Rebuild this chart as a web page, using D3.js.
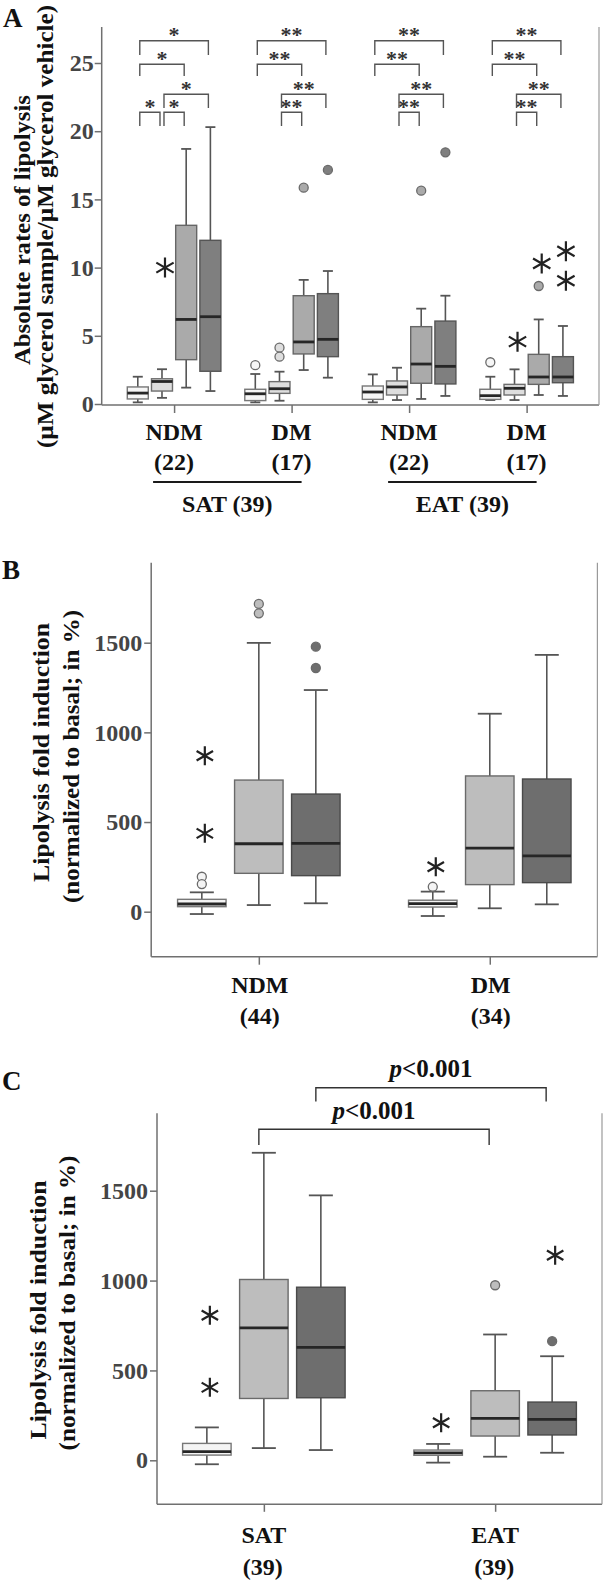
<!DOCTYPE html>
<html><head><meta charset="utf-8">
<script src="https://cdn.jsdelivr.net/npm/d3@7"></script>
<style>
body{margin:0;background:#fff}
svg{display:block}
text{font-family:"Liberation Serif","Times New Roman",serif;font-weight:bold}
</style>
</head><body>
<svg id="chart" width="611" height="1581"></svg>
<script>
// ---------------- DATA ----------------
// Panel A: absolute rates of lipolysis, 4 groups x 4 conditions. [min, q1, median, q3, max]
const categoriesA = ["NDM","DM","NDM","DM"];
const countsA = ["(22)","(17)","(22)","(17)"];
const tissuesA = ["SAT (39)","EAT (39)"];
const yTicksA = [0,5,10,15,20,25];
const aBox1 = [[0.12,0.37,0.80,1.25,2.00],[0.12,0.25,0.75,1.08,2.20],[0.12,0.34,0.88,1.32,2.17],[0.29,0.34,0.61,1.08,2.00]];
const aBox2 = [[0.45,0.95,1.65,1.85,2.55],[0.24,0.78,1.12,1.64,2.37],[0.29,0.66,1.25,1.69,2.66],[0.29,0.66,1.15,1.44,2.54]];
const aBox3 = [[1.20,3.25,6.20,13.10,18.70],[2.49,3.67,4.55,7.94,9.10],[0.37,1.52,2.93,5.67,6.99],[0.66,1.44,1.98,3.64,6.20]];
const aBox4 = [[0.95,2.40,6.40,12.00,20.30],[1.93,3.47,4.74,8.09,9.75],[0.59,1.47,2.76,6.08,7.94],[0.59,1.56,1.98,3.47,5.72]];
// [group, box, value, kind]  kind: "o" outlier, "*" extreme
const aOutliers = [[0,1,10.0,"*"],[1,0,2.85,"o"],[1,1,4.13,"o"],[1,1,3.47,"o"],[1,2,15.86,"o"],[1,3,17.16,"o"],
  [2,2,15.64,"o"],[2,3,18.45,"o"],[3,0,3.06,"o"],[3,1,4.57,"*"],[3,2,8.65,"o"],[3,2,10.3,"*"],[3,3,11.2,"*"],[3,3,9.04,"*"]];
// [group, fromBox, toBox, level, label]
const aBrackets = [[0,0,1,0,"*"],[0,1,2,0,"*"],[0,1,3,1,"*"],[0,0,2,2,"*"],[0,0,3,3,"*"],
  [1,1,2,0,"**"],[1,1,3,1,"**"],[1,0,2,2,"**"],[1,0,3,3,"**"],
  [2,1,2,0,"**"],[2,1,3,1,"**"],[2,0,2,2,"**"],[2,0,3,3,"**"],
  [3,1,2,0,"**"],[3,1,3,1,"**"],[3,0,2,2,"**"],[3,0,3,3,"**"]];

// Panel B: fold induction by diabetes status
const categoriesB = ["NDM","DM"];
const countsB = ["(44)","(34)"];
const yTicksB = [0,500,1000,1500];
const bBox1 = [[-13,28,43,69,108],[-24,26,45,64,112]];
const bBox2 = [[37,214,379,734,1499],[19,151,354,757,1104]];
const bBox3 = [[47,201,381,656,1236],[41,162,311,740,1432]];
const bOutliers = [[0,0,195,"o"],[0,0,154,"o"],[0,0,870,"*"],[0,0,437,"*"],[0,1,1716,"o"],[0,1,1664,"o"],
  [0,2,1478,"o"],[0,2,1359,"o"],[1,0,139,"o"],[1,0,251,"*"]];

// Panel C: fold induction by depot
const categoriesC = ["SAT","EAT"];
const countsC = ["(39)","(39)"];
const yTicksC = [0,500,1000,1500];
const cBox1 = [[-22,29,48,94,183],[-13,28,41,57,91]];
const cBox2 = [[68,344,737,1006,1711],[20,135,233,387,700]];
const cBox3 = [[57,348,628,963,1474],[42,141,228,324,579]];
const cOutliers = [[0,0,807,"*"],[0,0,406,"*"],[1,0,209,"*"],[1,1,974,"o"],[1,2,663,"o"],[1,2,1141,"*"]];
// [box, level, label]  (SAT box -> EAT box)
const cBrackets = [[1,0,"<0.001"],[2,1,"<0.001"]];

// ---------------- DRAWING ----------------
const svg = d3.select("#chart");
const AXIS = "#707070";

function starPath(cx, cy, r){
  const c = Math.cos(Math.PI/6)*r, s = Math.sin(Math.PI/6)*r;
  return `M${cx},${cy-r}L${cx},${cy+r}M${cx-c},${cy-s}L${cx+c},${cy+s}M${cx-c},${cy+s}L${cx+c},${cy-s}`;
}

function drawBoxes(g, x, y, boxes, fills, strokes, offset, bw, capW, circR, starR){
  boxes.forEach((series, bi) => {
    series.forEach((st, gi) => {
      const cx = x(gi) + offset(bi);
      const [mn,q1,md,q3,mx] = st;
      const gg = g.append("g");
      gg.append("line").attr("x1",cx).attr("x2",cx).attr("y1",y(mx)).attr("y2",y(q3)).attr("stroke","#555").attr("stroke-width",1.6);
      gg.append("line").attr("x1",cx).attr("x2",cx).attr("y1",y(q1)).attr("y2",y(mn)).attr("stroke","#555").attr("stroke-width",1.6);
      gg.append("line").attr("x1",cx-capW/2).attr("x2",cx+capW/2).attr("y1",y(mx)).attr("y2",y(mx)).attr("stroke","#555").attr("stroke-width",1.8);
      gg.append("line").attr("x1",cx-capW/2).attr("x2",cx+capW/2).attr("y1",y(mn)).attr("y2",y(mn)).attr("stroke","#555").attr("stroke-width",1.8);
      gg.append("rect").attr("x",cx-bw/2).attr("width",bw).attr("y",y(q3)).attr("height",Math.max(1,y(q1)-y(q3)))
        .attr("fill",fills[bi]).attr("stroke",strokes[bi]).attr("stroke-width",1.4);
      gg.append("line").attr("x1",cx-bw/2).attr("x2",cx+bw/2).attr("y1",y(md)).attr("y2",y(md)).attr("stroke","#262626").attr("stroke-width",2.8);
    });
  });
}

function drawOutliers(g, x, y, outs, fills, offset, circR, starR){
  outs.forEach(([gi,bi,v,k]) => {
    const cx = x(gi) + offset(bi);
    if (k === "o") {
      g.append("circle").attr("cx",cx).attr("cy",y(v)).attr("r",circR)
        .attr("fill",fills[bi]).attr("stroke","#6a6a6a").attr("stroke-width",1.3);
    } else {
      g.append("path").attr("d",starPath(cx+3,y(v),starR)).attr("stroke","#222").attr("stroke-width",2.2).attr("fill","none");
    }
  });
}

function frame(g, P){
  g.append("line").attr("x1",P.left).attr("x2",P.left).attr("y1",P.top).attr("y2",P.bottom).attr("stroke",AXIS).attr("stroke-width",1.5);
  g.append("line").attr("x1",P.left).attr("x2",P.right).attr("y1",P.bottom).attr("y2",P.bottom).attr("stroke",AXIS).attr("stroke-width",1.5);
  g.append("line").attr("x1",P.right).attr("x2",P.right).attr("y1",P.top).attr("y2",P.bottom).attr("stroke","#9a9a9a").attr("stroke-width",1.2);
}

function yAxis(g, P, y, ticks, pad){
  const ax = g.append("g").attr("transform",`translate(${P.left},0)`)
    .call(d3.axisLeft(y).tickValues(ticks).tickSize(7).tickPadding(pad).tickFormat(d3.format("d")));
  ax.select(".domain").remove();
  ax.selectAll(".tick line").attr("stroke",AXIS).attr("stroke-width",1.5);
  ax.selectAll(".tick text").attr("font-size",24).attr("fill","#454545")
    .attr("font-family","Liberation Serif, Times New Roman, serif").attr("font-weight","bold");
}

function xAxis(g, P, x, n, tickLen){
  const ax = g.append("g").attr("transform",`translate(0,${P.bottom})`)
    .call(d3.axisBottom(x).tickValues(d3.range(n)).tickSize(tickLen).tickFormat(""));
  ax.select(".domain").remove();
  ax.selectAll(".tick line").attr("stroke",AXIS).attr("stroke-width",1.5);
}

function label(t, x, y, size, opts={}){
  const el = svg.append("text").attr("x",x).attr("y",y).attr("font-size",size)
    .attr("text-anchor",opts.anchor||"middle").attr("fill",opts.fill||"#111").text(t);
  return el;
}

function yTitle(lines, xs, cys, lens, size){
  lines.forEach((t,i) => {
    svg.append("text").attr("transform",`translate(${xs[i]},${cys[i]}) rotate(-90)`)
      .attr("text-anchor","middle").attr("font-size",size).attr("fill","#111")
      .attr("textLength",lens[i]).attr("lengthAdjust","spacingAndGlyphs").text(t);
  });
}

// ===== Panel A =====
{
  const P = {left:101.7,right:599,top:27,bottom:405};
  const g = svg.append("g");
  const x = d3.scalePoint().domain(d3.range(4)).range([P.left,P.right]).padding(0.616);
  const y = d3.scaleLinear().domain([0,25]).range([404,63]);
  const off = i => (i-1.5)*24.2;
  const fills = ["#f6f6f6","#dedede","#aaaaaa","#7f7f7f"];
  const strokes = ["#777","#6e6e6e","#666","#555"];
  frame(g,P);
  yAxis(g,P,y,yTicksA,1);
  xAxis(g,P,x,4,8);
  drawBoxes(g,x,y,[aBox1,aBox2,aBox3,aBox4],fills,strokes,off,21,10,4.5,10);
  drawOutliers(g,x,y,aOutliers,fills,off,4.5,10);
  const levels = [[112.3,126],[94.3,108],[64.3,76],[40.7,55]];
  aBrackets.forEach(([gi,f,t,lv,lab]) => {
    const x1 = x(gi)+off(f)+2, x2 = x(gi)+off(t)-2;
    const [ly,lb] = levels[lv];
    g.append("path").attr("d",`M${x1},${lb}V${ly}H${x2}V${lb}`).attr("fill","none").attr("stroke","#555").attr("stroke-width",1.4);
    g.append("text").attr("x",(x1+x2)/2).attr("y",ly+1.5).attr("text-anchor","middle").attr("font-size",22).attr("fill","#333").text(lab);
  });
  categoriesA.forEach((c,i) => { label(c, x(i), 439.5, 24); label(countsA[i], x(i), 470, 24); });
  tissuesA.forEach((t,k) => {
    const x1 = x(2*k)-21, x2 = x(2*k+1)+10;
    svg.append("line").attr("x1",x1).attr("x2",x2).attr("y1",482).attr("y2",482).attr("stroke","#1a1a1a").attr("stroke-width",2.2);
    label(t,(x1+x2)/2,511.5,24);
  });
  label("A",3,27,27,{anchor:"start"});
  yTitle(["Absolute rates of lipolysis","(\u00b5M glycerol sample/\u00b5M glycerol vehicle)"],[30,52.5],[230,226.5],[270,443],24);
}

// ===== Panel B =====
{
  const P = {left:151.2,right:597.4,top:562.7,bottom:956.7};
  const g = svg.append("g");
  const x = d3.scalePoint().domain(d3.range(2)).range([P.left,P.right]).padding(0.466);
  const y = d3.scaleLinear().domain([0,1500]).range([911.7,642.7]);
  const off = i => (i-1)*57;
  const fills = ["#f4f4f4","#bdbdbd","#6e6e6e"];
  const strokes = ["#777","#6a6a6a","#4a4a4a"];
  frame(g,P);
  yAxis(g,P,y,yTicksB,2);
  xAxis(g,P,x,2,8);
  drawBoxes(g,x,y,[bBox1,bBox2,bBox3],fills,strokes,off,48.5,24,4.5,9.5);
  drawOutliers(g,x,y,bOutliers,fills,off,4.5,9.5);
  categoriesB.forEach((c,i) => { label(c, x(i)+1, 993, 24); label(countsB[i], x(i)+1, 1024, 24); });
  label("B",2,579,27,{anchor:"start"});
  yTitle(["Lipolysis fold induction","(normalized to basal; in %)"],[49,79],[752.5,756.5],[259,293],24);
}

// ===== Panel C =====
{
  const P = {left:157,right:602,top:1113.3,bottom:1504.3};
  const g = svg.append("g");
  const x = d3.scalePoint().domain(d3.range(2)).range([P.left,P.right]).padding(0.462);
  const y = d3.scaleLinear().domain([0,1500]).range([1460.3,1190.7]);
  const off = i => (i-1)*57;
  const fills = ["#f4f4f4","#bdbdbd","#6e6e6e"];
  const strokes = ["#777","#6a6a6a","#4a4a4a"];
  frame(g,P);
  yAxis(g,P,y,yTicksC,2);
  xAxis(g,P,x,2,7.5);
  drawBoxes(g,x,y,[cBox1,cBox2,cBox3],fills,strokes,off,48.5,24,4.5,9.5);
  drawOutliers(g,x,y,cOutliers,fills,off,4.5,9.5);
  const levels = [[1129.3,1145,1118.5],[1087.7,1101.5,1077]];
  cBrackets.forEach(([bi,lv,lab]) => {
    const x1 = x(0)+off(bi)-5, x2 = x(1)+off(bi)-6;
    const [ly,lb,ty] = levels[lv];
    g.append("path").attr("d",`M${x1},${lb}V${ly}H${x2}V${lb}`).attr("fill","none").attr("stroke","#333").attr("stroke-width",1.4);
    const t = g.append("text").attr("x",(x1+x2)/2).attr("y",ty).attr("text-anchor","middle").attr("font-size",25).attr("fill","#111");
    t.append("tspan").attr("font-style","italic").text("p");
    t.append("tspan").text(lab);
  });
  categoriesC.forEach((c,i) => { label(c, x(i), 1543, 24); label(countsC[i], x(i)-1, 1575, 24); });
  label("C",2,1090,27,{anchor:"start"});
  yTitle(["Lipolysis fold induction","(normalized to basal; in %)"],[46,75],[1310,1303],[259,295],24);
}
</script>
</body></html>
